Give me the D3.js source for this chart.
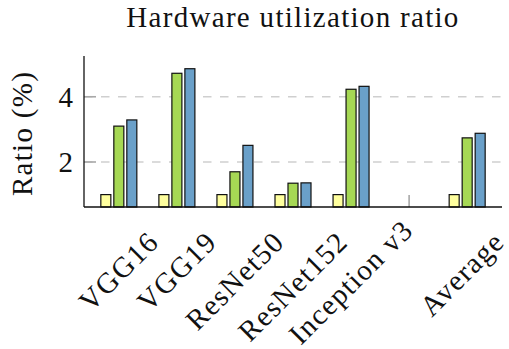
<!DOCTYPE html>
<html><head><meta charset="utf-8"><script src="https://cdn.jsdelivr.net/npm/d3@7"></script></head>
<body style="margin:0">
<svg id="s" width="509" height="349"></svg>
<script>
// Models on the x axis; the blank slot keeps a gap before the average group
const categories = ["VGG16", "VGG19", "ResNet50", "ResNet152", "Inception v3", "", "Average"];
const seriesNames = ["baseline", "methodA", "methodB"];
const baseline = [1.0, 1.0, 1.0, 1.0, 1.0, null, 1.0];
const methodA  = [3.10, 4.72, 1.70, 1.35, 4.23, null, 2.74];
const methodB  = [3.29, 4.86, 2.51, 1.36, 4.32, null, 2.88];
const yTicks = [2, 4];
const seriesColors = ["#ffff9e", "#a6d854", "#6aa0c9"];
const titleText = "Hardware utilization ratio";

const FONT = "Liberation Serif, Times New Roman, DejaVu Serif, Noto Serif, serif";
const svg = d3.select("#s");
const m = { left: 84, right: 502, top: 56, bottom: 207 };
const baseSize = 29;
const titleWidth = 332;

const x = d3.scalePoint().domain(categories).range([m.left, m.right]).padding(0.6);
const xs = d3.scaleBand().domain(seriesNames).range([-18, 18]).paddingInner(0.23);
const y = d3.scaleLinear().domain([0.62, 5.25]).range([m.bottom, m.top]);

const series = [baseline, methodA, methodB].map((vals, si) => ({
  name: seriesNames[si], color: seriesColors[si],
  values: vals.map((v, i) => ({ cat: categories[i], v }))
}));

// dashed horizontal grid
svg.append("g").selectAll("line").data(yTicks).join("line")
  .attr("x1", m.left).attr("x2", m.right)
  .attr("y1", d => y(d)).attr("y2", d => y(d))
  .attr("stroke", "#cfcfcf").attr("stroke-width", 1.6)
  .attr("stroke-dasharray", "8.5 8.5").attr("stroke-dashoffset", -17);

// inner tick marks (grey), drawn beneath the bars
const tickLen = 12;
svg.append("g").selectAll("line").data(yTicks).join("line")
  .attr("x1", m.left).attr("x2", m.left + tickLen)
  .attr("y1", d => y(d)).attr("y2", d => y(d))
  .attr("stroke", "#a8a8a8").attr("stroke-width", 1.6);
svg.append("g").selectAll("line").data(categories).join("line")
  .attr("x1", d => x(d)).attr("x2", d => x(d))
  .attr("y1", m.bottom).attr("y2", m.bottom - tickLen)
  .attr("stroke", "#a8a8a8").attr("stroke-width", 1.6);

// bars
const groups = svg.append("g").selectAll("g").data(series).join("g")
  .attr("fill", d => d.color);
groups.selectAll("rect").data(d => d.values.filter(p => p.v != null).map(p => ({ ...p, s: d.name })))
  .join("rect")
  .attr("x", d => x(d.cat) + xs(d.s))
  .attr("width", xs.bandwidth())
  .attr("y", d => y(d.v))
  .attr("height", d => y.range()[0] - y(d.v))
  .attr("stroke", "#111").attr("stroke-width", 1.2);

// axis lines
svg.append("line").attr("x1", m.left).attr("x2", m.left).attr("y1", m.top).attr("y2", m.bottom)
  .attr("stroke", "#111").attr("stroke-width", 1.3);
svg.append("line").attr("x1", m.left).attr("x2", m.right).attr("y1", m.bottom).attr("y2", m.bottom)
  .attr("stroke", "#111").attr("stroke-width", 1.3);

// chart title; its measured width sets the text size and tracking used everywhere
const title = svg.append("text")
  .attr("font-family", FONT).attr("font-size", baseSize).attr("fill", "#111")
  .attr("x", 293).attr("y", 27)
  .attr("text-anchor", "middle")
  .text(titleText);
const w0 = title.node().getComputedTextLength();
const fontSize = Math.min(baseSize, baseSize * titleWidth / w0);
title.attr("font-size", fontSize);
const w1 = title.node().getComputedTextLength();
const letterSpacing = Math.max(0, (titleWidth - w1) / (titleText.length - 1));
title.attr("letter-spacing", letterSpacing);

function styleText(sel) {
  return sel.attr("font-family", FONT).attr("font-size", fontSize).attr("fill", "#111");
}

// y tick labels
styleText(svg.append("g").selectAll("text").data(yTicks).join("text"))
  .attr("x", 73).attr("y", d => y(d)).attr("dy", "0.34em")
  .attr("text-anchor", "end")
  .text(d => d);

// y axis title
styleText(svg.append("text"))
  .attr("transform", "translate(32,133.5) rotate(-90)")
  .attr("text-anchor", "middle")
  .attr("letter-spacing", letterSpacing)
  .text("Ratio (%)");

// rotated x labels: centred on the tick, top corner of the glyphs just under the axis,
// kept inside the drawing area
const labelTop = 230;
const labelBottomLimit = 346;
const labelRightLimit = 506;
const capHalf = 0.33 * fontSize;
styleText(svg.append("g").selectAll("text").data(categories.filter(c => c !== "")).join("text"))
  .attr("text-anchor", "middle")
  .attr("dy", "0.33em")
  .attr("letter-spacing", letterSpacing)
  .text(d => d)
  .each(function (d) {
    const len = this.getComputedTextLength();
    const half = Math.SQRT1_2 * (len / 2 + capHalf);
    const cy = Math.min(labelTop + half, labelBottomLimit - half);
    const cx = Math.min(x(d), labelRightLimit - half);
    d3.select(this).attr("transform", `translate(${cx},${cy}) rotate(-45)`);
  });
</script>
</body>
</html>
